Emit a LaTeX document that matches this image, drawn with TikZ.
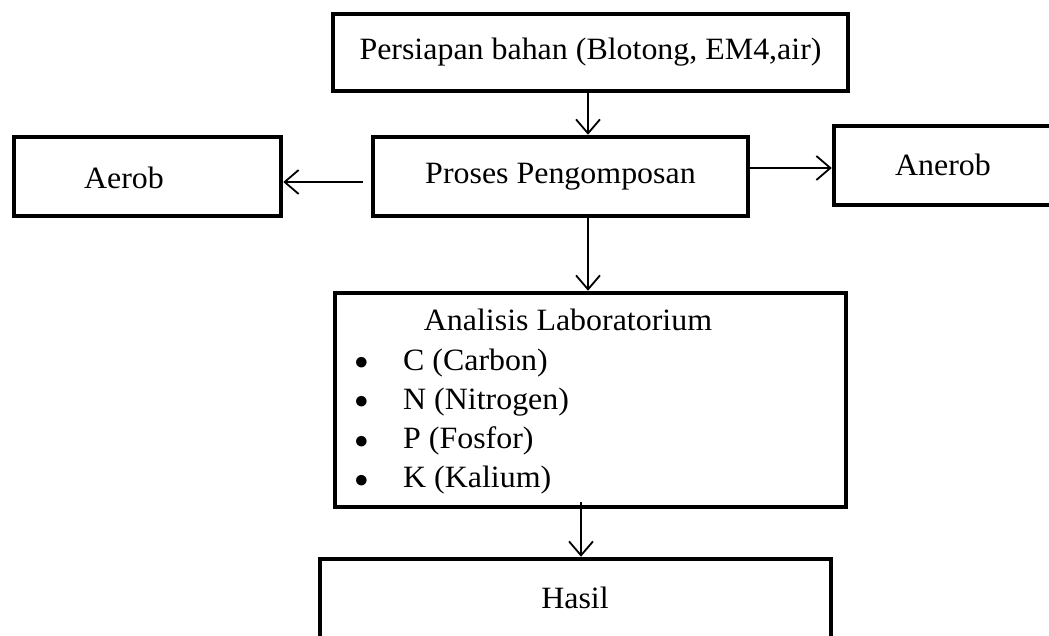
\documentclass[tikz,border=0pt]{standalone}
\usepackage{fontspec}
\setmainfont{Liberation Serif}[FakeStretch=1.03]
\usetikzlibrary{arrows.meta}
\tikzset{
    box/.style={draw, rectangle, line width=4.5pt, inner sep=0pt, font=\fontsize{31}{39}\selectfont},
    txt/.style={inner sep=0pt, font=\fontsize{31}{39}\selectfont},
    flow/.style={-{Straight Barb[length=14pt,width=24pt]}, line width=1.8pt}
}
\begin{document}
\begin{tikzpicture}[x=1pt,y=-1pt]
    \useasboundingbox (0,0) rectangle (1049,636);
    \clip (0,0) rectangle (1049,636);

    % Boxes
    \node[box, minimum width=515pt, minimum height=77pt] (bahan) at (590.5,52.5) {Persiapan bahan (Blotong, EM4,air)};
    \node[box, minimum width=375pt, minimum height=79pt] (proses) at (560.5,176.5) {Proses Pengomposan};
    \node[box, minimum width=267pt, minimum height=79pt] (aerob) at (147.5,176.5) {};
    \node[box, minimum width=236pt, minimum height=79pt] (anerob) at (952,165.5) {};
    \node[box, minimum width=511pt, minimum height=214pt] (analisis) at (590.5,400) {};
    \node[box, minimum width=511pt, minimum height=121pt] (hasil) at (575.5,619.5) {};

    % Labels
    \node[txt] (aerobtxt) at (124,178) {Aerob};
    \node[txt] (anerobtxt) at (943,165) {Anerob};
    \node[txt, anchor=base] (judul) at (568,330) {Analisis Laboratorium};
    \foreach \item [count=\i] in {C (Carbon), N (Nitrogen), P (Fosfor), K (Kalium)}
        \node[txt, anchor=base west] (item\i) at (354.5,{370+39.3*(\i-1)}) {\makebox[48.5pt][l]{\raisebox{0.5pt}{\scalebox{1.1}{$\bullet$}}}\item};
    \node[txt] (hasiltxt) at (575,598) {Hasil};

    % Arrows
    \draw[flow] ([xshift=-2.5pt]bahan.south) -- ([xshift=27.5pt]proses.north);
    \draw[flow, shorten <=8pt] ([yshift=-5.5pt]proses.west) -- ([yshift=-5.5pt]aerob.east);
    \draw[flow] ([yshift=8.5pt]proses.east) -- ([yshift=-2.5pt]anerob.west);
    \draw[flow] ([xshift=27.5pt]proses.south) -- ([xshift=-2.5pt]analisis.north);
    \draw[flow, shorten <=-7pt] ([xshift=-9.5pt]analisis.south) -- ([xshift=5.5pt]hasil.north);
\end{tikzpicture}
\end{document}
